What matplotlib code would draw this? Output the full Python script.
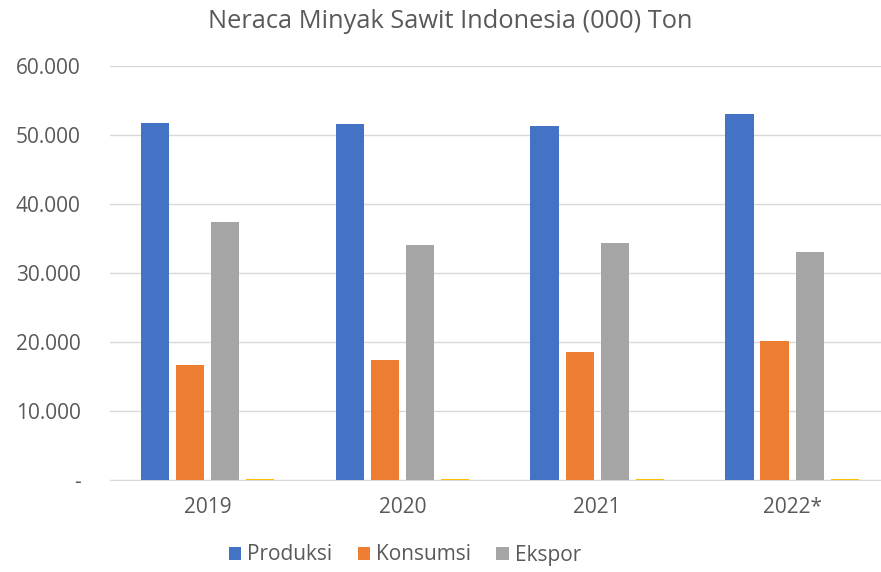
import matplotlib.pyplot as plt
import numpy as np

plt.rcParams["font.family"] = ["Open Sans", "DejaVu Sans"]

years = ["2019", "2020", "2021", "2022*"]
produksi = [51800, 51600, 51300, 53000]
konsumsi = [16700, 17400, 18500, 20100]
ekspor = [37400, 34000, 34300, 33000]
stok = [150, 150, 150, 150]  # seri keempat, hampir nol, legend terpotong
yticks = [0, 10000, 20000, 30000, 40000, 50000, 60000]
ytick_labels = ["-", "10.000", "20.000", "30.000", "40.000", "50.000", "60.000"]

txt = "#595959"
fig = plt.figure(figsize=(8.81, 5.72), dpi=100)
ax = fig.add_axes([110/881, 1-480/572, 771/881, (480-66)/572])

x = np.arange(len(years))
step = 0.18
w = 0.145
ax.bar(x - 1.5*step, produksi, w, color="#4472C4", label="Produksi", zorder=3)
ax.bar(x - 0.5*step, konsumsi, w, color="#ED7D31", label="Konsumsi", zorder=3)
ax.bar(x + 0.5*step, ekspor, w, color="#A5A5A5", label="Ekspor", zorder=3)
ax.bar(x + 1.5*step, stok, w, color="#FFC000", zorder=3)

ax.set_xlim(-0.5, 3.456)
ax.set_ylim(0, 60000)
ax.set_yticks(yticks)
ax.set_yticklabels(ytick_labels)
ax.set_xticks(x)
ax.set_xticklabels(years)
ax.tick_params(axis="both", length=0, colors=txt)
ax.tick_params(axis="y", pad=21, labelsize=15)
ax.tick_params(axis="x", pad=12, labelsize=15)
ax.grid(axis="y", color="#D9D9D9", linewidth=1, zorder=0)
for s in ["left", "right", "top"]:
    ax.spines[s].set_visible(False)
ax.spines["bottom"].set_color("#D9D9D9")

fig.text(450/881, 1-21/572, "Neraca Minyak Sawit Indonesia (000) Ton",
         ha="center", va="center", fontsize=18.3, color=txt)

fig.legend(loc="center", bbox_to_anchor=(405/881, 1-555/572), ncol=3,
           frameon=False, fontsize=15, labelcolor=txt, handlelength=0.6,
           handleheight=0.6, handletextpad=0.3, columnspacing=1.2)

fig.savefig("out.png", dpi=100)
